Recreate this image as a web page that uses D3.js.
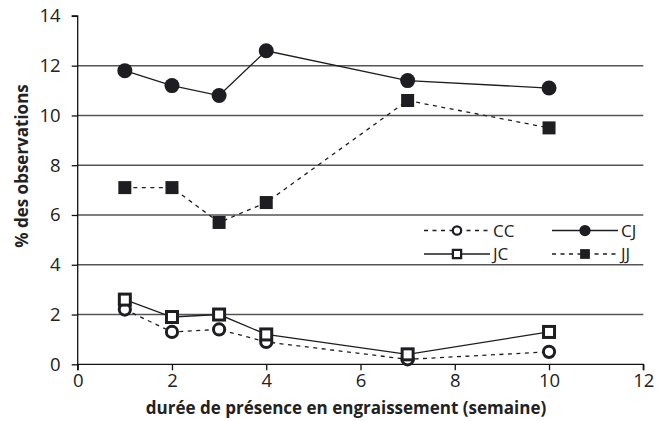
<!DOCTYPE html>
<html><head><meta charset="utf-8">
<script src="https://cdn.jsdelivr.net/npm/d3@7"></script>
<style>body{margin:0;background:#fff}svg{display:block}text{font-family:"Open Sans",sans-serif;fill:#222}</style>
</head><body><svg id="c" width="668" height="421"></svg>
<script>
const weeks = [1, 2, 3, 4, 7, 10];
const seriesNames = ["CC", "CJ", "JC", "JJ"];
const CC = [2.2, 1.3, 1.4, 0.9, 0.2, 0.5];
const CJ = [11.8, 11.2, 10.8, 12.6, 11.4, 11.1];
const JC = [2.6, 1.9, 2.0, 1.2, 0.4, 1.3];
const JJ = [7.1, 7.1, 5.7, 6.5, 10.6, 9.5];
const xTicks = [0, 2, 4, 6, 8, 10, 12];
const yTicks = [0, 2, 4, 6, 8, 10, 12, 14];
const xTitle = "durée de présence en engraissement (semaine)";
const yTitle = "% des observations";

const svg = d3.select("#c");
const x = d3.scaleLinear().domain([0, 12]).range([77.7, 643.3]);
const y = d3.scaleLinear().domain([0, 14]).range([364.3, 15.9]);

// gridlines
svg.append("g").selectAll("line").data(yTicks.filter(d => d > 0 && d < 14)).join("line")
  .attr("x1", x(0)).attr("x2", x(12)).attr("y1", d => y(d)).attr("y2", d => y(d))
  .attr("stroke", "#555").attr("stroke-width", 1.5);

// axes
const xa = svg.append("g").attr("transform", `translate(0,${y(0)})`)
  .call(d3.axisBottom(x).tickValues(xTicks).tickSize(6).tickPadding(4).tickFormat(d3.format("d")));
const ya = svg.append("g").attr("transform", `translate(${x(0)},0)`)
  .call(d3.axisLeft(y).tickValues(yTicks).tickSize(6).tickPadding(11).tickFormat(d3.format("d")));
[xa, ya].forEach(a => {
  a.select(".domain").attr("stroke", "#111").attr("stroke-width", 1.3);
  a.selectAll(".tick line").attr("stroke", "#111").attr("stroke-width", 1.3);
  a.selectAll(".tick text").style("font-size", "18.5px").attr("fill", "#222").style("font-family", "'Open Sans',sans-serif");
});
ya.select(".domain").attr("d", `M-6,${y(14)}H0V${y(0)}`);
xa.select(".domain").attr("d", `M${x(0)},6V0H${x(12)}V6`);

const specs = [
  {name: "CC", data: CC, dash: "4,4.5", marker: "ocircle"},
  {name: "CJ", data: CJ, dash: null, marker: "fcircle"},
  {name: "JC", data: JC, dash: null, marker: "osquare"},
  {name: "JJ", data: JJ, dash: "4,4.5", marker: "fsquare"}
];
const line = d3.line().x((d, i) => x(weeks[i])).y(d => y(d));

function drawMarker(g, type, cx, cy, s) {
  if (type === "fcircle") g.append("circle").attr("cx", cx).attr("cy", cy).attr("r", 7.5 * s).attr("fill", "#1e1e22");
  if (type === "ocircle") g.append("circle").attr("cx", cx).attr("cy", cy).attr("r", 5.6 * s).attr("fill", "#fff").attr("stroke", "#1e1e22").attr("stroke-width", 3 * s);
  if (type === "fsquare") g.append("rect").attr("x", cx - 6.5 * s).attr("y", cy - 6.5 * s).attr("width", 13 * s).attr("height", 13 * s).attr("fill", "#1e1e22");
  if (type === "osquare") g.append("rect").attr("x", cx - 5.5 * s).attr("y", cy - 5.5 * s).attr("width", 11 * s).attr("height", 11 * s).attr("fill", "#fff").attr("stroke", "#1e1e22").attr("stroke-width", 3 * s);
}

specs.forEach(sp => {
  const g = svg.append("g");
  g.append("path").attr("d", line(sp.data)).attr("fill", "none").attr("stroke", "#1e1e22")
    .attr("stroke-width", 1.3).attr("stroke-dasharray", sp.dash);
  sp.data.forEach((v, i) => drawMarker(g, sp.marker, x(weeks[i]), y(v), 1));
});

// legend
const legPos = {CC: [424, 230.5], CJ: [552, 230.5], JC: [424, 254], JJ: [552, 254]};
specs.forEach(sp => {
  const [lx, ly] = legPos[sp.name];
  const g = svg.append("g");
  g.append("line").attr("x1", lx).attr("x2", lx + 66).attr("y1", ly).attr("y2", ly)
    .attr("stroke", "#1e1e22").attr("stroke-width", 1.3).attr("stroke-dasharray", sp.dash);
  drawMarker(g, sp.marker, lx + 33, ly, 0.75);
  g.append("text").attr("x", lx + 69).attr("y", ly).attr("dy", "0.36em").style("font-size", "17px").text(sp.name);
});

// titles
svg.append("text").attr("x", 346).attr("y", 414).attr("text-anchor", "middle")
  .style("font-size", "17px").style("font-weight", "bold").text(xTitle);
svg.append("text").attr("transform", "translate(28,166) rotate(-90)").attr("text-anchor", "middle")
  .style("font-size", "17px").style("font-weight", "bold").text(yTitle);
</script></body></html>
